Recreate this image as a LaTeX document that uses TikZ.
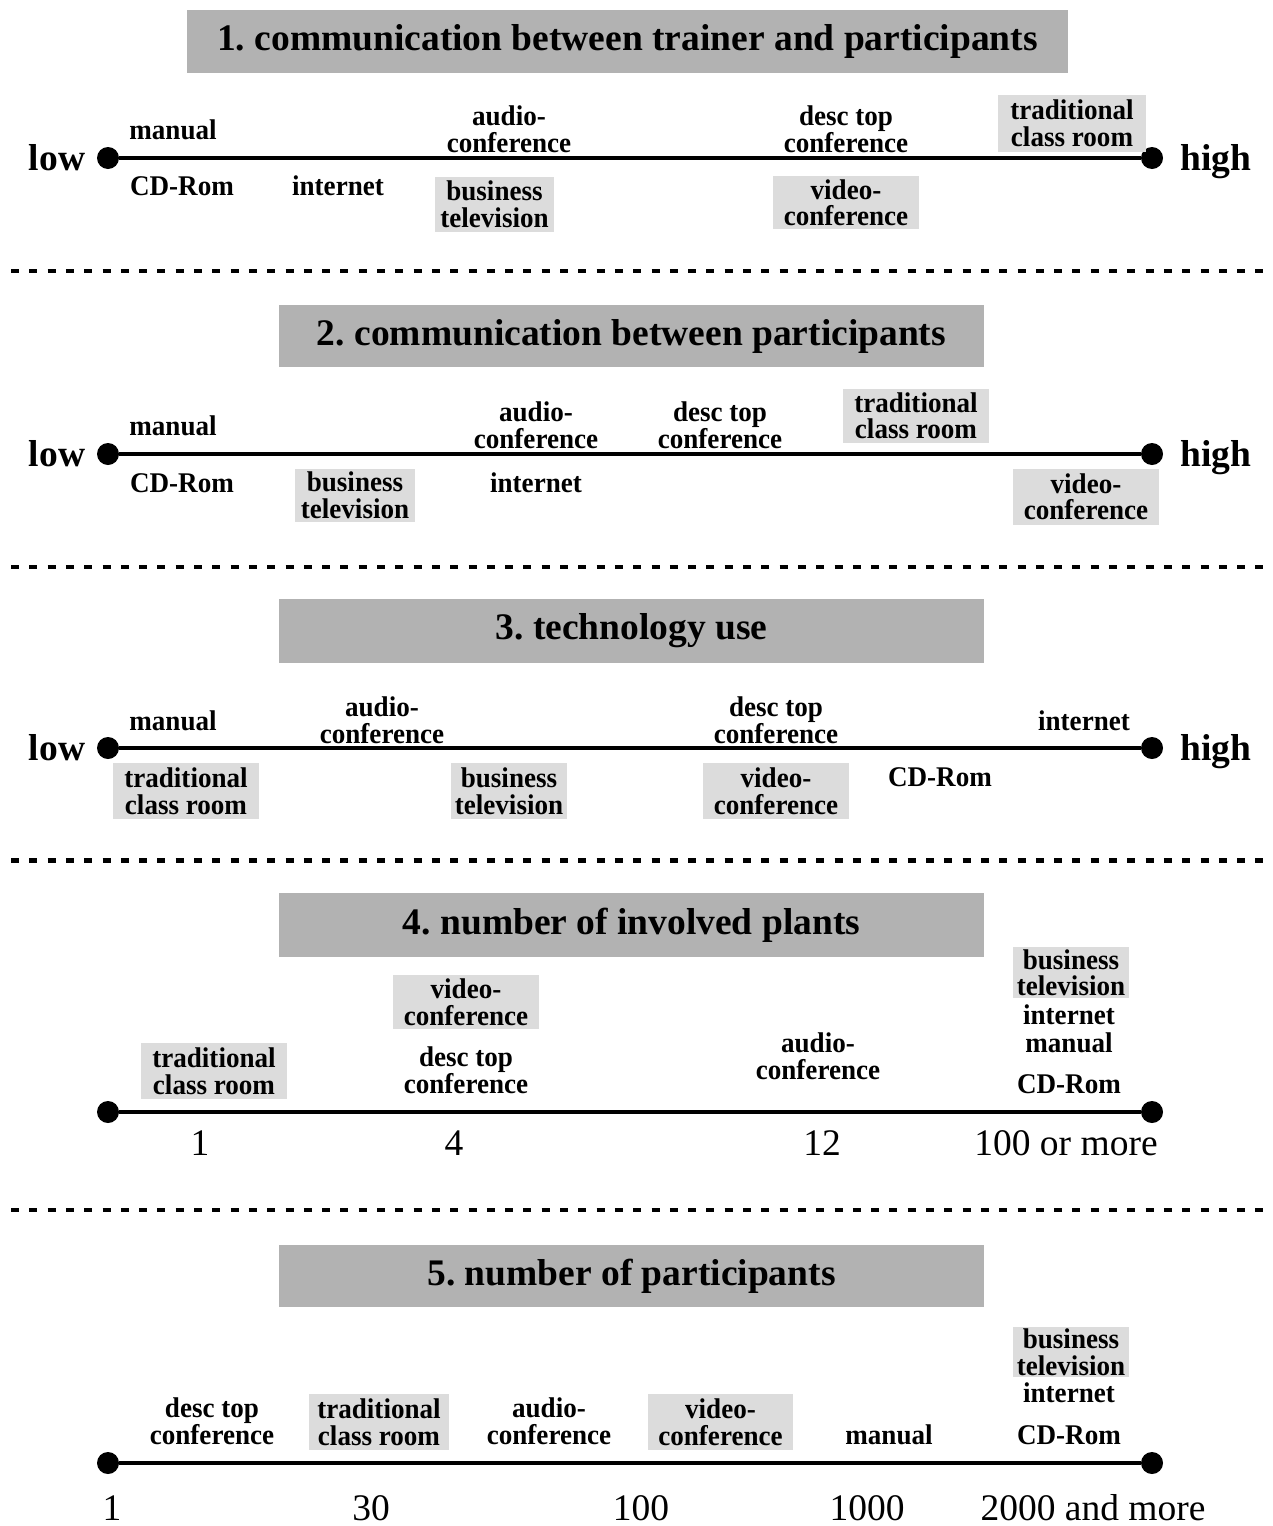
\documentclass[tikz,border=0pt]{standalone}
\usepackage{fontspec}
\setmainfont{Liberation Serif}
\newfontfamily\tagfont[FakeStretch=0.95]{Liberation Serif}
\frenchspacing
\definecolor{titlegray}{HTML}{B2B2B2}
\definecolor{taggray}{HTML}{DCDCDC}
\begin{document}
\begin{tikzpicture}[x=1pt,y=-1pt,
  tag/.style={font=\tagfont\fontsize{28.5}{26.5}\selectfont\bfseries, align=center, inner sep=0pt},
  hl/.style={tag, fill=taggray},
  heading/.style={fill=titlegray, inner sep=0pt, font=\fontsize{37.5}{40}\selectfont\bfseries},
  endlabel/.style={inner sep=0pt, anchor=base, font=\fontsize{37.5}{40}\selectfont\bfseries},
  num/.style={inner sep=0pt, font=\fontsize{37.5}{40}\selectfont},
  dot/.style={circle, fill=black, inner sep=0pt, minimum size=22},
  axis/.style={line width=4},
  sep/.style={line width=4, dash pattern=on 8 off 10.3},
]
\useasboundingbox (0,0) rectangle (1273,1526);

% separators between the five scales
\coordinate (s1a) at (11,271);  \coordinate (s1b) at (1270,271);
\coordinate (s2a) at (11,567);  \coordinate (s2b) at (1270,567);
\coordinate (s3a) at (11,860);  \coordinate (s3b) at (1270,860);
\coordinate (s4a) at (11,1210); \coordinate (s4b) at (1270,1210);
\draw[sep] (s1a) -- (s1b);
\draw[sep] (s2a) -- (s2b);
\draw[sep, line width=5] (s3a) -- (s3b);
\draw[sep] (s4a) -- (s4b);

% ---------- 1 ----------
\node[heading, minimum width=881, minimum height=63] (t1) at (627.5,41.5) {1. communication between trainer and participants};
\node[dot] (a1l) at (108,158) {};
\node[dot] (a1r) at (1152,158) {};
\draw[axis] (a1l) -- (a1r);
\node[endlabel] (lo1) at (57,170.5) {low};
\node[endlabel] (hi1) at (1216,170.5) {high};
\node[tag] (m1) at (173,130) {manual};
\node[tag] (cd1) at (182,186) {CD-Rom};
\node[tag] (in1) at (338,186) {internet};
\node[tag] (au1) at (509,129) {audio-\\conference};
\node[hl, minimum width=119, minimum height=55] (bt1) at (494.5,204) {business\\television};
\node[tag] (dt1) at (846,129) {desc top\\conference};
\node[hl, minimum width=146, minimum height=53] (vc1) at (846,202.5) {video-\\conference};
\node[hl, minimum width=148, minimum height=57] (tc1) at (1072,123) {traditional\\class room};

% ---------- 2 ----------
\node[heading, minimum width=705, minimum height=62] (t2) at (631.5,336) {2. communication between participants};
\node[dot] (a2l) at (108,454) {};
\node[dot] (a2r) at (1152,454) {};
\draw[axis] (a2l) -- (a2r);
\node[endlabel] (lo2) at (57,466.5) {low};
\node[endlabel] (hi2) at (1216,466.5) {high};
\node[tag] (m2) at (173,426) {manual};
\node[tag] (cd2) at (182,483) {CD-Rom};
\node[hl, minimum width=120, minimum height=53] (bt2) at (355,495) {business\\television};
\node[tag] (au2) at (536,425) {audio-\\conference};
\node[tag] (in2) at (536,483) {internet};
\node[tag] (dt2) at (720,425) {desc top\\conference};
\node[hl, minimum width=146, minimum height=54] (tc2) at (916,415.5) {traditional\\class room};
\node[hl, minimum width=146, minimum height=56] (vc2) at (1086,496.5) {video-\\conference};

% ---------- 3 ----------
\node[heading, minimum width=705, minimum height=64] (t3) at (631.5,631) {3. technology use};
\node[dot] (a3l) at (108,748) {};
\node[dot] (a3r) at (1152,748) {};
\draw[axis] (a3l) -- (a3r);
\node[endlabel] (lo3) at (57,760.5) {low};
\node[endlabel] (hi3) at (1216,760.5) {high};
\node[tag] (m3) at (173,721) {manual};
\node[tag] (au3) at (382,720) {audio-\\conference};
\node[tag] (dt3) at (776,720) {desc top\\conference};
\node[tag] (in3) at (1084,721) {internet};
\node[hl, minimum width=146, minimum height=56] (tc3) at (186,791) {traditional\\class room};
\node[hl, minimum width=116, minimum height=56] (bt3) at (509,791) {business\\television};
\node[hl, minimum width=146, minimum height=56] (vc3) at (776,791) {video-\\conference};
\node[tag] (cd3) at (940,777) {CD-Rom};

% ---------- 4 ----------
\node[heading, minimum width=705, minimum height=64] (t4) at (631.5,925) {4. number of involved plants};
\node[dot] (a4l) at (108,1112) {};
\node[dot] (a4r) at (1152,1112) {};
\draw[axis] (a4l) -- (a4r);
\node[hl, minimum width=146, minimum height=56] (tc4) at (214,1071) {traditional\\class room};
\node[hl, minimum width=146, minimum height=54] (vc4) at (466,1002) {video-\\conference};
\node[tag] (dt4) at (466,1070) {desc top\\conference};
\node[tag] (au4) at (818,1056) {audio-\\conference};
\node[hl, minimum width=116, minimum height=51] (bt4) at (1071,972.5) {business\\television};
\node[tag] (in4) at (1069,1015) {internet};
\node[tag] (m4) at (1069,1043) {manual};
\node[tag] (cd4) at (1069,1084) {CD-Rom};
\node[num] (n4a) at (200,1143) {1};
\node[num] (n4b) at (454,1143) {4};
\node[num] (n4c) at (822,1143) {12};
\node[num] (n4d) at (1066,1143) {100 or more};

% ---------- 5 ----------
\node[heading, minimum width=705, minimum height=62] (t5) at (631.5,1276) {5. number of participants};
\node[dot] (a5l) at (108,1463) {};
\node[dot] (a5r) at (1152,1463) {};
\draw[axis] (a5l) -- (a5r);
\node[tag] (dt5) at (212,1421) {desc top\\conference};
\node[hl, minimum width=140, minimum height=56] (tc5) at (379,1422) {traditional\\class room};
\node[tag] (au5) at (549,1421) {audio-\\conference};
\node[hl, minimum width=145, minimum height=56] (vc5) at (720.5,1422) {video-\\conference};
\node[tag] (m5) at (889,1435) {manual};
\node[hl, minimum width=116, minimum height=50] (bt5) at (1071,1352) {business\\television};
\node[tag] (in5) at (1069,1393) {internet};
\node[tag] (cd5) at (1069,1435) {CD-Rom};
\node[num] (n5a) at (112,1508) {1};
\node[num] (n5b) at (371,1508) {30};
\node[num] (n5c) at (641,1508) {100};
\node[num] (n5d) at (867,1508) {1000};
\node[num] (n5e) at (1093,1508) {2000 and more};
\end{tikzpicture}
\end{document}
